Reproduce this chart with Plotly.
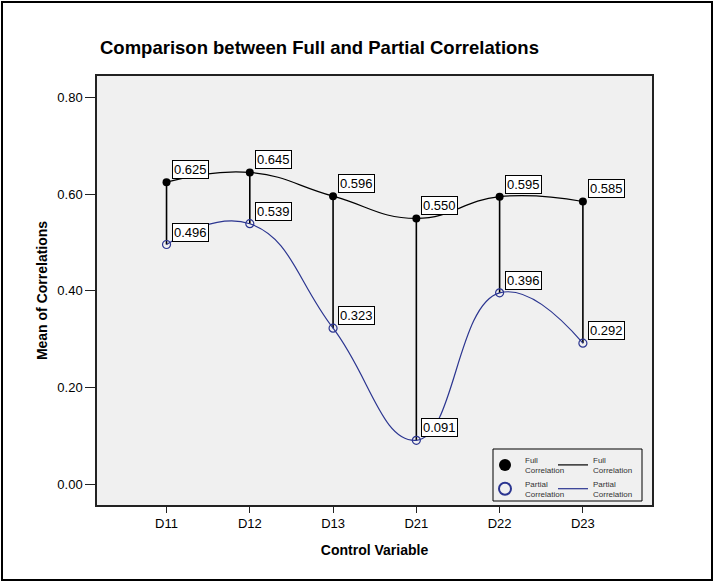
import plotly.graph_objects as go

categories = ["D11", "D12", "D13", "D21", "D22", "D23"]
full_corr = [0.625, 0.645, 0.596, 0.550, 0.595, 0.585]
partial_corr = [0.496, 0.539, 0.323, 0.091, 0.396, 0.292]
y_ticks = [0.0, 0.2, 0.4, 0.6, 0.8]

NAVY = "#2b3590"
FONT = "Liberation Sans, Arial, sans-serif"

fig = go.Figure()

# drop lines between full and partial values
dx, dy = [], []
for c, f, p in zip(categories, full_corr, partial_corr):
    dx += [c, c, None]
    dy += [f, p, None]
fig.add_trace(go.Scatter(x=dx, y=dy, mode="lines", line=dict(color="black", width=1.6),
                         showlegend=False, hoverinfo="skip"))

fig.add_trace(go.Scatter(x=categories, y=partial_corr, mode="lines",
                         line=dict(color=NAVY, width=1.2, shape="spline", smoothing=1.3),
                         name="Partial<br>Correlation", legend="legend2", legendrank=2))
fig.add_trace(go.Scatter(x=categories, y=full_corr, mode="lines",
                         line=dict(color="black", width=1.2, shape="spline", smoothing=1.3),
                         name="Full<br>Correlation", legend="legend2", legendrank=1))
fig.add_trace(go.Scatter(x=categories, y=full_corr, mode="markers",
                         marker=dict(color="black", size=8, symbol="circle"),
                         name="Full<br>Correlation", legend="legend", legendrank=1))
fig.add_trace(go.Scatter(x=categories, y=partial_corr, mode="markers",
                         marker=dict(color=NAVY, size=8, symbol="circle-open", line=dict(width=1.2)),
                         name="Partial<br>Correlation", legend="legend", legendrank=2))

for c, f, p in zip(categories, full_corr, partial_corr):
    for v in (f, p):
        fig.add_annotation(x=c, y=v, text=f"{v:.3f}", showarrow=False,
                           xanchor="left", yanchor="bottom", xshift=5, yshift=3,
                           bgcolor="white", bordercolor="black", borderwidth=1, borderpad=1,
                           font=dict(family=FONT, size=13, color="black"))

L, R, T, B = 97, 63, 76, 78
W, H = 715, 583
pw, ph = W - L - R, H - T - B

def px(x):
    return (x - L) / pw

def py(y):
    return (H - B - y) / ph

# legend frame
fig.add_shape(type="rect", xref="paper", yref="paper",
              x0=px(493), x1=px(642), y0=py(501), y1=py(449),
              line=dict(color="black", width=1), fillcolor="rgba(0,0,0,0)")
# outer frame
fig.add_shape(type="rect", xref="paper", yref="paper",
              x0=px(2), x1=px(712), y0=py(580), y1=py(2),
              line=dict(color="black", width=2), fillcolor="rgba(0,0,0,0)")

legend_common = dict(bgcolor="rgba(0,0,0,0)", borderwidth=0,
                     font=dict(family=FONT, size=8, color="#333"), yanchor="top",
                     xanchor="left", tracegroupgap=0, itemclick=False)

fig.update_layout(
    width=W, height=H,
    margin=dict(l=L, r=R, t=T, b=B),
    paper_bgcolor="white", plot_bgcolor="#f0f0f0",
    font=dict(family=FONT, size=13, color="black"),
    title=dict(text="<b>Comparison between Full and Partial Correlations</b>",
               x=px(100), xref="paper", xanchor="left",
               y=1 - 48 / H, yref="container", yanchor="middle",
               font=dict(family=FONT, size=18.5, color="black")),
    xaxis=dict(type="category", categoryorder="array", categoryarray=categories,
               range=[-0.835, 5.83], showgrid=False, zeroline=False,
               showline=True, mirror=True, linecolor="#222", linewidth=1.5,
               ticks="outside", ticklen=6, tickcolor="#222", tickwidth=1.2,
               tickfont=dict(size=13),
               title=dict(text="<b>Control Variable</b>", font=dict(size=14), standoff=15)),
    yaxis=dict(range=[-0.0428, 0.8445], tickvals=y_ticks, tickformat=".2f",
               showgrid=False, zeroline=False,
               showline=True, mirror=True, linecolor="#222", linewidth=1.5,
               ticks="outside", ticklen=10, tickcolor="#222", tickwidth=1.2,
               tickfont=dict(size=13),
               title=dict(text="<b>Mean of Correlations</b>", font=dict(size=14), standoff=6)),
    legend=dict(x=px(485), y=py(448), itemsizing="constant", **legend_common),
    legend2=dict(x=px(553), y=py(448), itemsizing="trace", **legend_common),
    showlegend=True,
)

fig.write_html("out.html", config={"displayModeBar": False},
               post_script="document.body.style.margin='0';document.body.style.overflow='hidden';")
